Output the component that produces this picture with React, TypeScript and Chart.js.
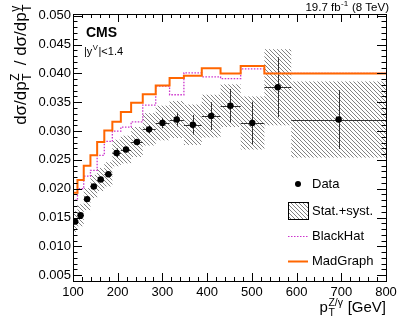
import React, { useEffect, useRef } from 'react';
import { Chart, registerables } from 'chart.js';

Chart.register(...registerables);

// ---- data ----
const binEdges = [100, 110, 124, 139, 154, 170, 188, 207, 230, 256, 285, 316, 348, 388, 430, 475, 528, 588, 800];
const binCenters = [105, 117, 131.5, 146.5, 162, 179, 197.5, 218.5, 243, 270, 300, 332, 368, 409, 452, 501, 558, 694];
const dataValues = [0.0143, 0.0154, 0.0182, 0.0204, 0.0216, 0.0225, 0.0262, 0.0268, 0.0281, 0.0303, 0.0314, 0.0320, 0.0311, 0.0326, 0.0344, 0.0314, 0.0376, 0.0320];
const statErrors = [0.0003, 0.0003, 0.0003, 0.0003, 0.0004, 0.0004, 0.0008, 0.0005, 0.0005, 0.0007, 0.0009, 0.0012, 0.0017, 0.0024, 0.0029, 0.0037, 0.0052, 0.0051];
const totalErrors = [0.0018, 0.0019, 0.0019, 0.0020, 0.0020, 0.0021, 0.0023, 0.0024, 0.0026, 0.0028, 0.0030, 0.0032, 0.0035, 0.0037, 0.0037, 0.0046, 0.0066, 0.0066];
const blackHatValues = [0.0163, 0.0180, 0.0200, 0.0222, 0.0232, 0.0258, 0.0282, 0.0300, 0.0307, 0.0316, 0.0345, 0.0378, 0.0363, 0.0401, 0.0394, 0.0391, 0.0408, 0.0400];
const madGraphValues = [0.0172, 0.0193, 0.0215, 0.0240, 0.0258, 0.0281, 0.0301, 0.0316, 0.0333, 0.0349, 0.0364, 0.0379, 0.0392, 0.0396, 0.0409, 0.0400, 0.0413, 0.0400];
const xTickValues = [100, 200, 300, 400, 500, 600, 700, 800];
const xTickLabels = ['100', '200', '300', '400', '500', '600', '700', '800'];
const yTickValues = [0.005, 0.010, 0.015, 0.020, 0.025, 0.030, 0.035, 0.040, 0.045, 0.050];
const yTickLabels = ['0.005', '0.010', '0.015', '0.020', '0.025', '0.030', '0.035', '0.040', '0.045', '0.050'];
const legendLabels = ['Data', 'Stat.+syst.', 'BlackHat', 'MadGraph'];

const X_MIN = 100;
const X_MAX = 800;
const Y_MIN = 0.004;
const Y_MAX = 0.0503;

const FONT = '"Liberation Sans", Arial, Helvetica, sans-serif';
const ORANGE = 'rgb(255,102,0)';
const PURPLE = 'rgb(204,51,204)';

function makeHatch(ctx: CanvasRenderingContext2D) {
  const s = 4;
  const c = document.createElement('canvas');
  c.width = s;
  c.height = s;
  const g = c.getContext('2d')!;
  g.strokeStyle = 'rgba(70,70,70,0.85)';
  g.lineWidth = 0.8;
  g.beginPath();
  g.moveTo(-1, -1); g.lineTo(s + 1, s + 1);
  g.moveTo(-1, s - 1); g.lineTo(1, s + 1);
  g.moveTo(s - 1, -1); g.lineTo(s + 1, 1);
  g.stroke();
  return ctx.createPattern(c, 'repeat')!;
}

function stepData(vals: number[]) {
  return binEdges.map((e, i) => ({ x: e, y: vals[Math.min(i, vals.length - 1)] }));
}

type Piece = { t: string; k: 'n' | 'sup' | 'sub' | 'stack'; sub?: string; gap?: number };
function measurePieces(ctx: CanvasRenderingContext2D, pieces: Piece[], fs: number) {
  let w = 0;
  for (const p of pieces) {
    if (p.k === 'n') { ctx.font = `${fs}px ${FONT}`; w += ctx.measureText(p.t).width; }
    else {
      ctx.font = `${fs * 0.7}px ${FONT}`;
      let ww = ctx.measureText(p.t).width;
      if (p.k === 'stack' && p.sub) ww = Math.max(ww, ctx.measureText(p.sub).width);
      w += ww + 1;
    }
    w += p.gap ?? 0;
  }
  return w;
}
function drawPieces(ctx: CanvasRenderingContext2D, pieces: Piece[], fs: number, x: number, y: number) {
  let cx = x;
  ctx.textBaseline = 'alphabetic';
  ctx.textAlign = 'left';
  for (const p of pieces) {
    if (p.k === 'n') {
      ctx.font = `${fs}px ${FONT}`;
      ctx.fillText(p.t, cx, y);
      cx += ctx.measureText(p.t).width;
    } else {
      ctx.font = `${fs * 0.7}px ${FONT}`;
      let ww = ctx.measureText(p.t).width;
      if (p.k === 'sup') ctx.fillText(p.t, cx + 0.5, y - fs * 0.42);
      else if (p.k === 'sub') ctx.fillText(p.t, cx + 0.5, y + fs * 0.28);
      else {
        ctx.fillText(p.t, cx + 0.5, y - fs * 0.42);
        ctx.fillText(p.sub!, cx + 0.5, y + fs * 0.28);
        ww = Math.max(ww, ctx.measureText(p.sub!).width);
      }
      cx += ww + 1;
    }
    cx += p.gap ?? 0;
  }
}

const decorPlugin = {
  id: 'decor',
  beforeDatasetsDraw(chart: any) {
    const ctx: CanvasRenderingContext2D = chart.ctx;
    const xs = chart.scales.x;
    const ys = chart.scales.y;
    const area = chart.chartArea;
    ctx.save();
    ctx.beginPath();
    ctx.rect(area.left, area.top, area.right - area.left, area.bottom - area.top);
    ctx.clip();
    const pat = makeHatch(ctx);
    ctx.fillStyle = pat;
    for (let i = 0; i < dataValues.length; i++) {
      const x0 = xs.getPixelForValue(binEdges[i]);
      const x1 = xs.getPixelForValue(binEdges[i + 1]);
      const y0 = ys.getPixelForValue(dataValues[i] + totalErrors[i]);
      const y1 = ys.getPixelForValue(dataValues[i] - totalErrors[i]);
      ctx.fillRect(x0, y0, x1 - x0, y1 - y0);
    }
    ctx.strokeStyle = '#333';
    ctx.lineWidth = 1;
    ctx.beginPath();
    for (let i = 0; i < dataValues.length; i++) {
      const x0 = xs.getPixelForValue(binEdges[i]);
      const x1 = xs.getPixelForValue(binEdges[i + 1]);
      const xc = xs.getPixelForValue(binCenters[i]);
      const yc = ys.getPixelForValue(dataValues[i]);
      const ya = ys.getPixelForValue(dataValues[i] + statErrors[i]);
      const yb = ys.getPixelForValue(dataValues[i] - statErrors[i]);
      ctx.moveTo(x0, Math.round(yc) + 0.5); ctx.lineTo(x1, Math.round(yc) + 0.5);
      ctx.moveTo(Math.round(xc) + 0.5, ya); ctx.lineTo(Math.round(xc) + 0.5, yb);
    }
    ctx.stroke();
    ctx.restore();
  },
  afterDraw(chart: any) {
    const ctx: CanvasRenderingContext2D = chart.ctx;
    const xs = chart.scales.x;
    const ys = chart.scales.y;
    const a = chart.chartArea;
    ctx.save();
    ctx.strokeStyle = '#000';
    ctx.lineWidth = 1;
    ctx.strokeRect(Math.round(a.left) + 0.5, Math.round(a.top) + 0.5, Math.round(a.right - a.left), Math.round(a.bottom - a.top));
    ctx.beginPath();
    for (let v = X_MIN; v <= X_MAX; v += 20) {
      const major = v % 100 === 0;
      const len = major ? 8 : 4;
      const px = Math.round(xs.getPixelForValue(v)) + 0.5;
      ctx.moveTo(px, a.bottom); ctx.lineTo(px, a.bottom - len);
      ctx.moveTo(px, a.top); ctx.lineTo(px, a.top + len);
    }
    for (let k = 5; k <= 50; k++) {
      const v = k / 1000;
      const major = k % 5 === 0;
      const len = major ? 9 : 4.5;
      const py = Math.round(ys.getPixelForValue(v)) + 0.5;
      ctx.moveTo(a.left, py); ctx.lineTo(a.left + len, py);
      ctx.moveTo(a.right, py); ctx.lineTo(a.right - len, py);
    }
    ctx.stroke();

    ctx.fillStyle = '#000';
    ctx.font = `bold 14px ${FONT}`;
    ctx.textAlign = 'left';
    ctx.textBaseline = 'alphabetic';
    ctx.fillText('CMS', 86, 37);
    drawPieces(ctx, [{ t: '|y', k: 'n' }, { t: 'V', k: 'sup' }, { t: '|<1.4', k: 'n' }], 11, 84, 55);

    const lumi: Piece[] = [{ t: '19.7 fb', k: 'n' }, { t: '-1', k: 'sup' }, { t: ' (8 TeV)', k: 'n' }];
    const lw = measurePieces(ctx, lumi, 11.5);
    drawPieces(ctx, lumi, 11.5, 389 - lw, 11);

    const xt: Piece[] = [{ t: 'p', k: 'n' }, { t: 'Z/\u03b3', k: 'stack', sub: 'T' }, { t: ' [GeV]', k: 'n' }];
    const xw = measurePieces(ctx, xt, 15);
    drawPieces(ctx, xt, 15, a.right - xw, 312);

    const yt: Piece[] = [
      { t: 'd\u03c3/dp', k: 'n' }, { t: 'Z', k: 'stack', sub: 'T', gap: 3 },
      { t: ' / d\u03c3/dp', k: 'n' }, { t: '\u03b3', k: 'stack', sub: 'T' },
    ];
    const yw = measurePieces(ctx, yt, 17);
    ctx.save();
    ctx.translate(26, 4);
    ctx.rotate(-Math.PI / 2);
    drawPieces(ctx, yt, 17, -yw, 0);
    ctx.restore();

    const lx = 288, tx = 312;
    ctx.font = `13px ${FONT}`;
    ctx.textBaseline = 'middle';
    ctx.textAlign = 'left';
    ctx.beginPath();
    ctx.arc(298, 184, 3, 0, Math.PI * 2);
    ctx.fill();
    ctx.fillText(legendLabels[0], tx, 184);
    ctx.fillStyle = makeHatch(ctx);
    ctx.fillRect(lx, 202, 20, 17);
    ctx.strokeStyle = '#000';
    ctx.lineWidth = 1;
    ctx.strokeRect(lx + 0.5, 202.5, 20, 17);
    ctx.fillStyle = '#000';
    ctx.fillText(legendLabels[1], tx, 211);
    ctx.strokeStyle = PURPLE;
    ctx.lineWidth = 1.2;
    ctx.setLineDash([1.5, 1.5]);
    ctx.beginPath();
    ctx.moveTo(lx, 236.5); ctx.lineTo(lx + 20, 236.5);
    ctx.stroke();
    ctx.setLineDash([]);
    ctx.fillText(legendLabels[2], tx, 236);
    ctx.strokeStyle = ORANGE;
    ctx.lineWidth = 2;
    ctx.beginPath();
    ctx.moveTo(lx, 261.5); ctx.lineTo(lx + 20, 261.5);
    ctx.stroke();
    ctx.fillText(legendLabels[3], tx, 261);
    ctx.restore();
  },
};

export default function App() {
  const ref = useRef<HTMLCanvasElement | null>(null);
  useEffect(() => {
    document.body.style.margin = '0';
    const canvas = ref.current!;
    const chart = new Chart(canvas, {
      type: 'scatter',
      data: {
        datasets: [
          {
            type: 'scatter',
            label: legendLabels[0],
            data: binCenters.map((x, i) => ({ x, y: dataValues[i] })),
            backgroundColor: '#000',
            borderColor: '#000',
            pointRadius: 3.2,
            pointBorderWidth: 0,
          },
          {
            type: 'line',
            label: legendLabels[3],
            data: stepData(madGraphValues),
            stepped: 'after',
            borderColor: ORANGE,
            borderWidth: 2,
            pointRadius: 0,
            fill: false,
          },
          {
            type: 'line',
            label: legendLabels[2],
            data: stepData(blackHatValues),
            stepped: 'after',
            borderColor: PURPLE,
            borderWidth: 1.3,
            borderDash: [1.5, 1.5],
            pointRadius: 0,
            fill: false,
          },
        ],
      },
      options: {
        animation: false,
        responsive: false,
        maintainAspectRatio: false,
        devicePixelRatio: 1,
        layout: { padding: { left: 0, right: 21, top: 14, bottom: 0 } },
        plugins: { legend: { display: false }, tooltip: { enabled: false } },
        events: [],
        scales: {
          x: {
            type: 'linear',
            min: X_MIN,
            max: X_MAX,
            grid: { display: false, drawTicks: false },
            border: { display: false },
            afterBuildTicks: (s: any) => { s.ticks = xTickValues.map((v) => ({ value: v })); },
            afterFit: (s: any) => { s.height = 43; },
            ticks: {
              padding: 4,
              maxRotation: 0,
              autoSkip: false,
              color: '#000',
              font: { family: FONT, size: 13 },
              callback: (v: any) => xTickLabels[xTickValues.indexOf(Number(v))] ?? '',
            },
          },
          y: {
            type: 'linear',
            min: Y_MIN,
            max: Y_MAX,
            grid: { display: false, drawTicks: false },
            border: { display: false },
            afterBuildTicks: (s: any) => { s.ticks = yTickValues.map((v) => ({ value: v })); },
            afterFit: (s: any) => { s.width = 73; },
            ticks: {
              padding: 2,
              autoSkip: false,
              color: '#000',
              font: { family: FONT, size: 13 },
              callback: (v: any) => {
                const i = yTickValues.findIndex((t) => Math.abs(t - Number(v)) < 1e-9);
                return i >= 0 ? yTickLabels[i] : '';
              },
            },
          },
        },
      },
      plugins: [decorPlugin],
    } as any);
    return () => chart.destroy();
  }, []);
  return (
    <div style={{ position: 'absolute', left: 0, top: 0, width: 407, height: 324, background: '#fff' }}>
      <canvas ref={ref} width={407} height={324} style={{ width: 407, height: 324, display: 'block' }} />
    </div>
  );
}
